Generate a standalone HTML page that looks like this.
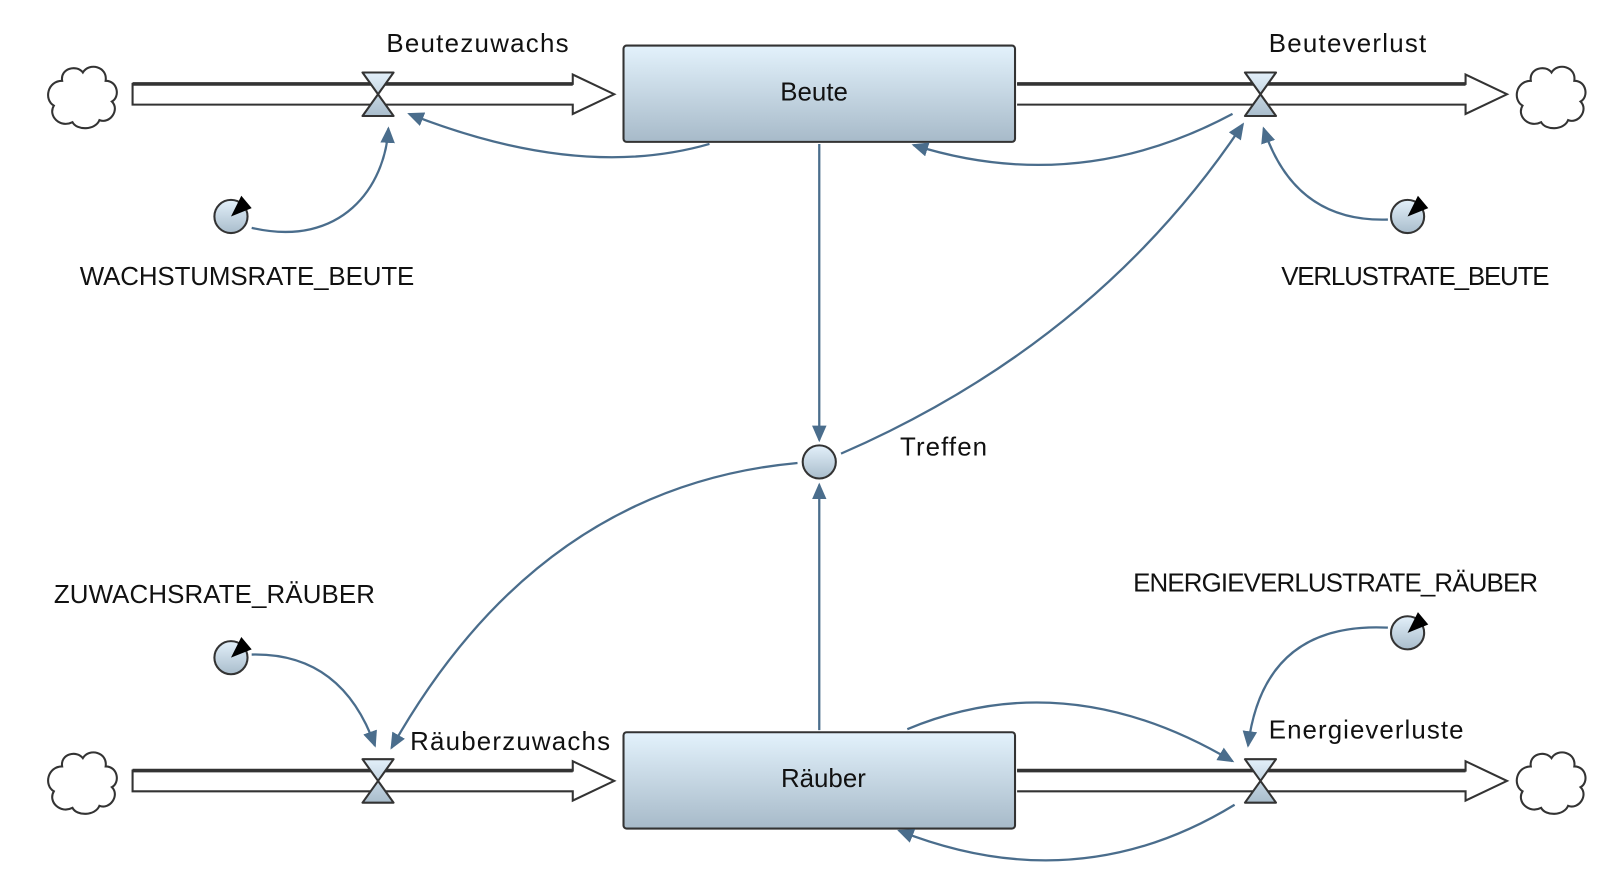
<!DOCTYPE html>
<html><head><meta charset="utf-8"><style>
html,body{margin:0;padding:0;background:#fff;width:1623px;height:870px;overflow:hidden}
svg{display:block}
text{font-family:"Liberation Sans",sans-serif;font-size:25px;fill:#111}
</style></head><body>
<svg width="1623" height="870" viewBox="0 0 1567 840" preserveAspectRatio="none" xmlns="http://www.w3.org/2000/svg">
<defs>
<linearGradient id="g" x1="0" y1="0" x2="0" y2="1"><stop offset="0" stop-color="#e3f2fc"/><stop offset="1" stop-color="#a7bac9"/></linearGradient>
<linearGradient id="gc" x1="0" y1="0" x2="0" y2="1"><stop offset="0" stop-color="#e3f0fa"/><stop offset="1" stop-color="#a9bdcc"/></linearGradient>
<marker id="a" markerWidth="16" markerHeight="14" refX="14" refY="7" orient="auto" markerUnits="userSpaceOnUse"><path d="M0,0 L16,7 L0,14 Z" fill="#4a6d8c"/></marker>
<g id="cloud"><path d="M-20,-14 C-22,-26 -6,-30 0,-22 C6,-32 24,-28 22,-14 C34,-14 36,2 28,6 C36,14 26,28 16,24 C12,34 -6,34 -10,26 C-22,32 -34,20 -28,10 C-38,4 -34,-14 -20,-14 Z" fill="#fff" stroke="#333" stroke-width="2"/></g>
<g id="valve"><path d="M-15,-21 L15,-21 L0,0 Z M-15,21 L15,21 L0,0 Z" fill="url(#gc)" stroke="#333" stroke-width="2" stroke-linejoin="round"/></g>
<g id="conv"><circle r="16" fill="url(#gc)" stroke="#333" stroke-width="2"/><path d="M0,0 L10,-20 L20,-8 Z" fill="#000"/></g>
<g id="pipe"><path d="M0,-10 L425,-10 L425,-19 L465,0 L425,19 L425,10 L0,10 Z" fill="#fff" stroke="#333" stroke-width="2"/><line x1="0" y1="-10" x2="425" y2="-10" stroke="#333" stroke-width="3.5"/></g>
<g id="pipe2"><path d="M0,-10 L433,-10 L433,-19 L473,0 L433,19 L433,10 L0,10" fill="#fff" stroke="#333" stroke-width="2"/><line x1="0" y1="-10" x2="433" y2="-10" stroke="#333" stroke-width="3.5"/></g>
</defs>

<use href="#pipe" x="128" y="91"/>
<use href="#pipe2" x="982" y="91"/>
<use href="#pipe" x="128" y="754"/>
<use href="#pipe2" x="982" y="754"/>

<use href="#cloud" x="80" y="92"/>
<use href="#cloud" x="1498" y="92"/>
<use href="#cloud" x="80" y="754"/>
<use href="#cloud" x="1498" y="754"/>

<rect x="602" y="44" width="378" height="93" rx="3" fill="url(#g)" stroke="#333" stroke-width="2"/>
<rect x="602" y="707" width="378" height="93" rx="3" fill="url(#g)" stroke="#333" stroke-width="2"/>
<text x="786" y="97" text-anchor="middle">Beute</text>
<text x="795" y="760" text-anchor="middle">Räuber</text>

<use href="#valve" x="365" y="91"/>
<use href="#valve" x="1217" y="91"/>
<use href="#valve" x="365" y="754"/>
<use href="#valve" x="1217" y="754"/>

<g fill="none" stroke="#4a6d8c" stroke-width="2.2" marker-end="url(#a)">
<path d="M685,139 Q560,175 395,110"/>
<path d="M243,220 C330,240 372,180 375,124"/>
<path d="M1190,110 Q1040,190 882,140"/>
<path d="M812,438 Q1060,330 1200,120"/>
<path d="M1340,212 Q1250,215 1220,124"/>
<path d="M791,139 L791,425"/>
<path d="M791,705 L791,468"/>
<path d="M770,447 Q520,470 378,722"/>
<path d="M243,632 Q330,630 362,720"/>
<path d="M876,704 Q1030,640 1190,735"/>
<path d="M1340,606 Q1220,600 1205,720"/>
<path d="M1192,777 Q1040,870 868,802"/>
</g>

<circle cx="791" cy="446" r="16" fill="url(#gc)" stroke="#333" stroke-width="2"/>
<use href="#conv" x="223" y="209"/>
<use href="#conv" x="1359" y="209"/>
<use href="#conv" x="223" y="635"/>
<use href="#conv" x="1359" y="611"/>

<text x="373" y="50" textLength="176">Beutezuwachs</text>
<text x="1225" y="50" textLength="152">Beuteverlust</text>
<text x="77" y="275" textLength="323">WACHSTUMSRATE_BEUTE</text>
<text x="1237" y="275" textLength="259">VERLUSTRATE_BEUTE</text>
<text x="869" y="440" textLength="84">Treffen</text>
<text x="52" y="582" textLength="310">ZUWACHSRATE_RÄUBER</text>
<text x="1094" y="571" textLength="391">ENERGIEVERLUSTRATE_RÄUBER</text>
<text x="396" y="724" textLength="193">Räuberzuwachs</text>
<text x="1225" y="713" textLength="188">Energieverluste</text>
</svg>
</body></html>
